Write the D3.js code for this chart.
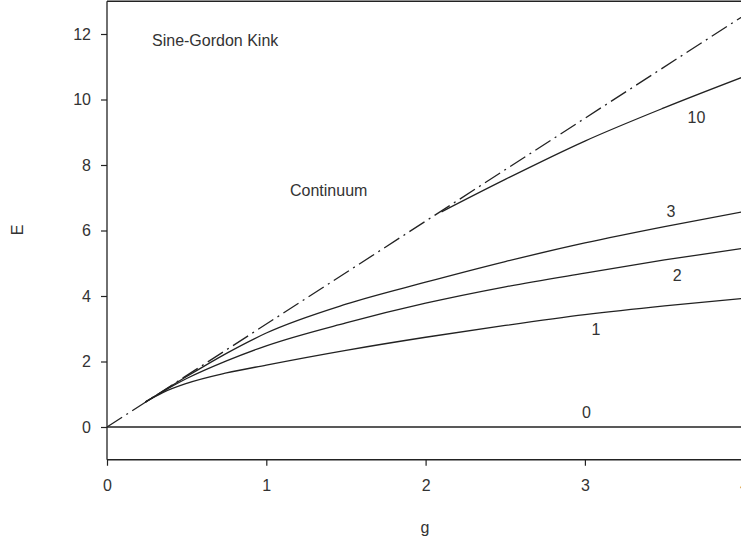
<!DOCTYPE html>
<html>
<head>
<meta charset="utf-8">
<script src="https://cdn.jsdelivr.net/npm/d3@7"></script>
<style>
  html, body { margin: 0; padding: 0; background: #fff; }
  svg { display: block; }
  text { font-family: "Liberation Sans", Arial, sans-serif; fill: #333; }
</style>
</head>
<body>
<script>
// ---- data ----
const gValues   = [0.24, 0.35, 0.5, 0.75, 1, 1.5, 2, 2.5, 3, 3.5, 4];
const curve1    = [0.76, 1.05, 1.33, 1.65, 1.89, 2.34, 2.74, 3.10, 3.43, 3.70, 3.93];
const curve2    = [0.76, 1.08, 1.48, 2.02, 2.48, 3.18, 3.78, 4.28, 4.70, 5.10, 5.46];
const curve3    = [0.76, 1.09, 1.54, 2.25, 2.87, 3.75, 4.42, 5.05, 5.62, 6.12, 6.58];
const gValues10 = [2.1, 2.5, 3, 3.5, 4];
const curve10   = [6.57, 7.56, 8.73, 9.75, 10.70];
const zeroG     = [0, 4];
const zeroE     = [0, 0];
const contG     = [0, 4];
const contE     = [0, 12.57];
const xTicks    = [0, 1, 2, 3, 4];
const yTicks    = [0, 2, 4, 6, 8, 10, 12];
const curveLabels = [
  { text: "10", g: 3.7,  E: 9.27 },
  { text: "3",  g: 3.54, E: 6.42 },
  { text: "2",  g: 3.58, E: 4.45 },
  { text: "1",  g: 3.07, E: 2.8 },
  { text: "0",  g: 3.01, E: 0.28 }
];

// ---- layout ----
const W = 741, H = 544;
const x = d3.scaleLinear().domain([0, 4]).range([107, 744.2]);
const y = d3.scaleLinear().domain([-1, 13]).range([459.75, 1.25]);

const svg = d3.select("body").append("svg").attr("width", W).attr("height", H);
const ink = "#222";

// frame
svg.append("line").attr("x1", 107).attr("x2", W + 5).attr("y1", y(13)).attr("y2", y(13))
  .attr("stroke", ink).attr("stroke-width", 1.3);

// axes
const xAxis = d3.axisBottom(x).tickValues(xTicks).tickFormat(d3.format("d")).tickSize(6).tickPadding(14);
const yAxis = d3.axisLeft(y).tickValues(yTicks).tickFormat(d3.format("d")).tickSize(6).tickPadding(10);

const gx = svg.append("g").attr("transform", `translate(0,${y(-1)})`).call(xAxis);
const gy = svg.append("g").attr("transform", `translate(${x(0)},0)`).call(yAxis);
[gx, gy].forEach(g => {
  g.select(".domain").attr("stroke", ink).attr("stroke-width", 1.3);
  g.selectAll(".tick line").attr("stroke", ink).attr("stroke-width", 1.2);
  g.selectAll(".tick text").style("font-size", "16px").attr("fill", "#333")
    .style("font-family", '"Liberation Sans", Arial, sans-serif');
});
gx.select(".domain").attr("d", `M${x(0)},0H${W + 5}`);
gy.select(".domain").attr("d", `M0,${y(13)}V${y(-1)}`);

// lines
const line = d3.line().x(d => x(d[0])).y(d => y(d[1])).curve(d3.curveMonotoneX);
[curve1, curve2, curve3].forEach(s => {
  svg.append("path").datum(gValues.map((g, i) => [g, s[i]]))
    .attr("d", line).attr("fill", "none").attr("stroke", ink).attr("stroke-width", 1.3);
});
svg.append("path").datum(gValues10.map((g, i) => [g, curve10[i]]))
  .attr("d", line).attr("fill", "none").attr("stroke", ink).attr("stroke-width", 1.3);
svg.append("path").datum(zeroG.map((g, i) => [g, zeroE[i]]))
  .attr("d", d3.line().x(d => x(d[0])).y(d => y(d[1])))
  .attr("fill", "none").attr("stroke", ink).attr("stroke-width", 1.3);
svg.append("path").datum(contG.map((g, i) => [g, contE[i]]))
  .attr("d", d3.line().x(d => x(d[0])).y(d => y(d[1])))
  .attr("fill", "none").attr("stroke", ink).attr("stroke-width", 1.3)
  .attr("stroke-dasharray", "18,5,2,5");

// text
svg.append("text").attr("x", 152).attr("y", 46).style("font-size", "16px").text("Sine-Gordon Kink");
svg.append("text").attr("x", 290).attr("y", 196).style("font-size", "16px").text("Continuum");
curveLabels.forEach(l => {
  svg.append("text").attr("x", x(l.g)).attr("y", y(l.E)).attr("text-anchor", "middle")
    .style("font-size", "16px").text(l.text);
});
svg.append("text").attr("transform", "translate(23,230) rotate(-90)")
  .attr("text-anchor", "middle").style("font-size", "16px").text("E");
svg.append("text").attr("x", 425).attr("y", 533).attr("text-anchor", "middle")
  .style("font-size", "16px").text("g");
</script>
</body>
</html>
